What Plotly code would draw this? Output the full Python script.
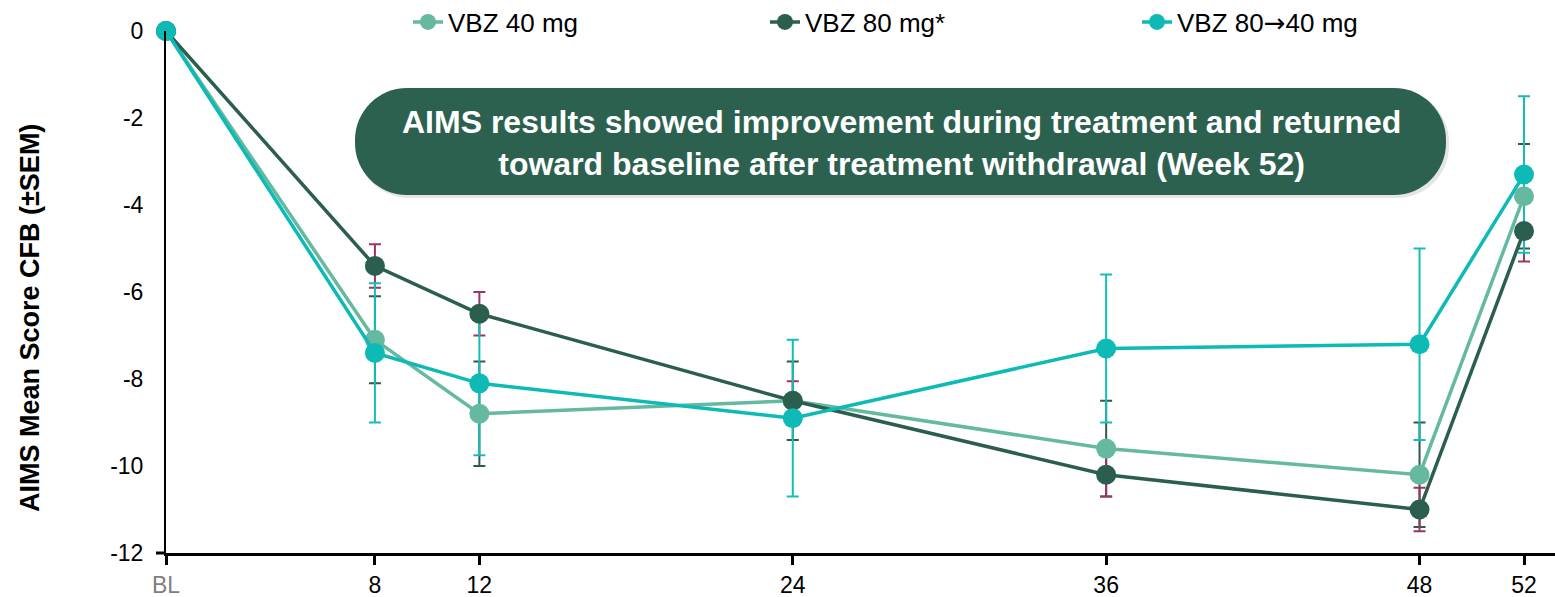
import plotly.graph_objects as go

# Study visits (weeks) and tick labels
weeks = [0, 8, 12, 24, 36, 48, 52]
week_labels = ["<span style='color:#7f7f7f'>BL</span>", "8", "12", "24", "36", "48", "52"]
score_ticks = [0, -2, -4, -6, -8, -10, -12]
score_labels = ["0", "-2", "-4", "-6", "-8", "-10", "-12"]

# AIMS mean change from baseline and SEM per arm
vbz40_mean = [0, -7.1, -8.8, -8.5, -9.6, -10.2, -3.8]
vbz40_sem = [0, 1.0, 1.2, 0.9, 1.1, 1.2, 1.2]

vbz80_mean = [0, -5.4, -6.5, -8.5, -10.2, -11.0, -4.6]
vbz80_sem = [0, 0.5, 0.5, 0.45, 0.5, 0.5, 0.7]

vbz80_40_mean = [0, -7.4, -8.1, -8.9, -7.3, -7.2, -3.3]
vbz80_40_sem = [0, 1.6, 1.65, 1.8, 1.7, 2.2, 1.8]

arms = [
    ("VBZ 40 mg", vbz40_mean, vbz40_sem, "#66B9A1", "#2E5A4C", "legend"),
    ("VBZ 80 mg*", vbz80_mean, vbz80_sem, "#2B5E4F", "#9C3464", "legend2"),
    ("VBZ 80<span style='font-family:DejaVu Sans'>\u2192</span>40 mg",
     vbz80_40_mean, vbz80_40_sem, "#0DBAB5", "#14BDB8", "legend3"),
]

W, H = 1555, 597
ML, MR, MT, MB = 166, 0, 31, 44
PW, PH = W - ML - MR, H - MT - MB
WEEK_PX = 1358 / 52.0
FONT = "Liberation Sans, Arial"


def px(x):
    return (x - ML) / PW


def py(y):
    return (H - MB - y) / PH


fig = go.Figure()

# error bars first so every marker sits above them
for name, mean, sem, color, ecolor, lg in arms:
    fig.add_trace(go.Scatter(
        x=weeks, y=mean, mode="markers",
        marker=dict(size=1, color="rgba(0,0,0,0)"),
        error_y=dict(type="data", array=sem, visible=True, color=ecolor,
                     thickness=2, width=6),
        showlegend=False, hoverinfo="skip", cliponaxis=False,
    ))

for name, mean, sem, color, ecolor, lg in arms:
    fig.add_trace(go.Scatter(
        x=weeks, y=mean, mode="lines+markers", name=name,
        line=dict(color=color, width=3.5),
        marker=dict(size=20, color=color),
        cliponaxis=False, legend=lg,
    ))


def pill(x0, y0, x1, y1, r):
    k = 0.5523 * r
    pts = [
        f"M {px(x0 + r)},{py(y0)}",
        f"L {px(x1 - r)},{py(y0)}",
        f"C {px(x1 - r + k)},{py(y0)} {px(x1)},{py(y0 + r - k)} {px(x1)},{py(y0 + r)}",
        f"L {px(x1)},{py(y1 - r)}",
        f"C {px(x1)},{py(y1 - r + k)} {px(x1 - r + k)},{py(y1)} {px(x1 - r)},{py(y1)}",
        f"L {px(x0 + r)},{py(y1)}",
        f"C {px(x0 + r - k)},{py(y1)} {px(x0)},{py(y1 - r + k)} {px(x0)},{py(y1 - r)}",
        f"L {px(x0)},{py(y0 + r)}",
        f"C {px(x0)},{py(y0 + r - k)} {px(x0 + r - k)},{py(y0)} {px(x0 + r)},{py(y0)}",
        "Z",
    ]
    return " ".join(pts)


shapes = [
    # soft shadow under the callout
    dict(type="path", xref="paper", yref="paper",
         path=pill(357, 90, 1449, 198, 52),
         fillcolor="rgba(0,0,0,0.10)", line=dict(width=0), layer="above"),
    dict(type="path", xref="paper", yref="paper",
         path=pill(355, 88, 1446, 195, 52),
         fillcolor="#2C6150", line=dict(width=0), layer="above"),
    # short stub of the x-axis line left of the y-axis
    dict(type="line", xref="paper", yref="paper",
         x0=px(156), x1=0, y0=0, y1=0, line=dict(color="black", width=3)),
]

annotations = [
    dict(text="<b>AIMS results showed improvement during treatment and returned<br>"
              "toward baseline after treatment withdrawal (Week 52)</b>",
         xref="paper", yref="paper", x=px(901), y=py(143),
         xanchor="center", yanchor="middle", showarrow=False, align="center",
         font=dict(family=FONT, size=32, color="white")),
    dict(text="<b>AIMS Mean Score CFB (\u00b1SEM)</b>",
         xref="paper", yref="paper", x=px(30), y=py(318),
         xanchor="center", yanchor="middle", textangle=-90, showarrow=False,
         font=dict(family=FONT, size=27, color="black")),
]

legend_common = dict(orientation="h", yanchor="middle", xanchor="left",
                     bgcolor="rgba(0,0,0,0)", borderwidth=0,
                     font=dict(family=FONT, size=26, color="black"))

fig.update_layout(
    width=W, height=H,
    margin=dict(l=ML, r=MR, t=MT, b=MB, autoexpand=False),
    paper_bgcolor="white", plot_bgcolor="white",
    font=dict(family=FONT, color="black"),
    xaxis=dict(range=[0, PW / WEEK_PX], tickvals=weeks, ticktext=week_labels,
               showgrid=False, zeroline=False, showline=True, linecolor="black",
               linewidth=3, ticks="outside", ticklen=9, tickwidth=2.5,
               tickcolor="black", tickfont=dict(size=23, color="black"),
               ticklabelstandoff=0, automargin=False),
    yaxis=dict(range=[-12, 0], tickvals=score_ticks, ticktext=score_labels,
               showgrid=False, zeroline=False, showline=True, linecolor="black",
               linewidth=2, ticks="", tickfont=dict(size=23, color="black"),
               ticklabelstandoff=16, automargin=False),
    legend=dict(x=px(408), y=py(22), **legend_common),
    legend2=dict(x=px(765), y=py(22), **legend_common),
    legend3=dict(x=px(1137), y=py(22), **legend_common),
    shapes=shapes,
    annotations=annotations,
)

fig.write_html("out.html")
